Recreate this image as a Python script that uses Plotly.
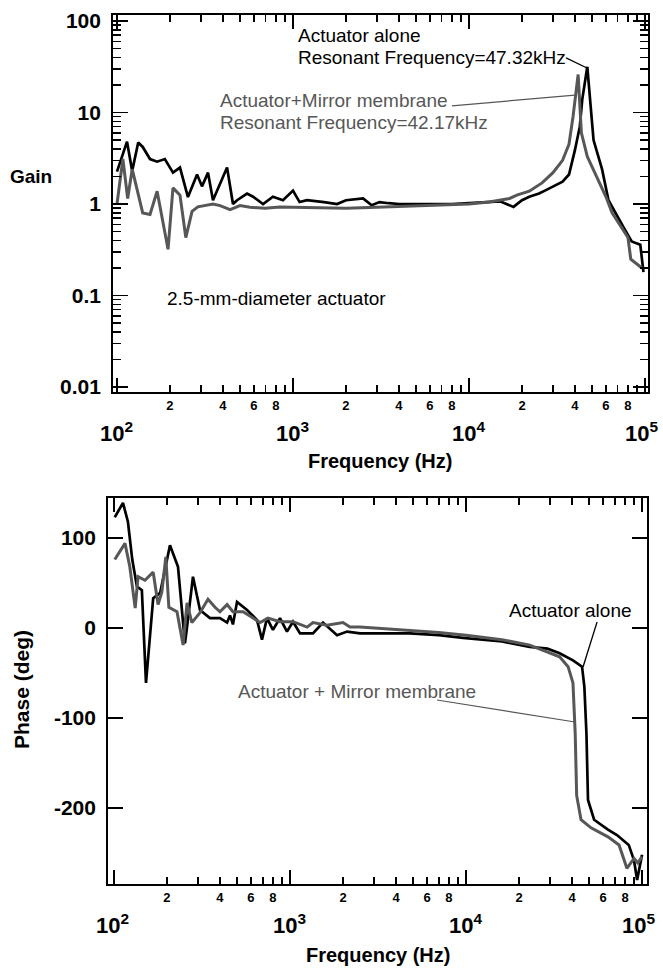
import numpy as np
import plotly.graph_objects as go

# ---------------- data ----------------
# Gain, actuator alone
gain_alone_freq = [100, 114, 122, 132, 140, 154, 169, 187, 208, 228, 253, 285, 304, 329, 351,
                   422, 456, 481, 548, 593, 676, 769, 877, 1000, 1090, 1200, 1500, 1780, 2000,
                   2500, 2800, 3100, 3500, 4000, 5000, 6000, 8000, 10000, 12000, 15000, 17900,
                   20000, 22000, 25000, 27000, 31000, 34000, 37000, 40000, 42600, 44000, 47000,
                   51000, 57000, 62000, 75000, 84000, 94000, 98000]
gain_alone = [2.26, 4.8, 2.3, 4.7, 4.2, 3.1, 2.9, 3.1, 2.2, 2.5, 1.19, 2.1, 1.56, 2.2, 1.1,
              2.5, 1.0, 1.1, 1.3, 1.2, 1.0, 1.2, 1.1, 1.4, 1.05, 1.1, 1.05, 1.0, 1.1,
              1.15, 0.97, 1.05, 1.02, 1.0, 1.0, 1.0, 1.0, 1.02, 1.05, 1.07, 0.93,
              1.1, 1.2, 1.3, 1.4, 1.6, 1.75, 2.1, 3.9, 7.0, 13.8, 31.6,
              5.0, 2.4, 1.1, 0.57, 0.39, 0.36, 0.18]

# Gain, actuator + mirror membrane
gain_mirror_freq = [100, 108, 115, 122, 140, 154, 169, 195, 208, 228, 246, 267, 288, 316, 351,
                    385, 439, 500, 570, 693, 843, 1000, 1500, 2000, 3000, 5000, 8000, 10000,
                    13000, 17000, 18700, 22000, 26000, 30000, 34000, 37000, 39000, 41700, 43500,
                    47000, 53000, 60000, 65000, 80000, 83000, 96000]
gain_mirror = [1.0, 3.1, 1.15, 2.4, 0.8, 0.77, 1.38, 0.32, 1.5, 1.25, 0.43, 0.83, 0.93, 0.96, 1.0,
               0.96, 0.87, 0.96, 0.92, 0.9, 0.93, 0.92, 0.9, 0.9, 0.92, 0.95, 0.97, 1.0,
               1.05, 1.15, 1.25, 1.38, 1.7, 2.2, 3.0, 4.5, 9.0, 26.0, 6.0,
               3.3, 2.0, 1.2, 0.8, 0.43, 0.25, 0.2]

# Phase, actuator alone
phase_alone_freq = [101, 112.5, 120, 127, 135, 144, 152, 167, 183, 208, 231, 253, 260, 281, 308,
                    351, 400, 439, 456, 474, 500, 570, 649, 693, 740, 800, 877, 961, 1040, 1140,
                    1350, 1540, 1850, 2110, 2500, 3000, 4800, 7000, 9600, 16000, 23000, 29000,
                    34000, 40500, 45600, 47000, 48300, 49300, 53400, 64000, 72000, 84000, 90000,
                    93700, 97500, 100000]
phase_alone = [123, 139, 118, 76, 46, 42, -61, 33, 39, 92, 68, -17, 1, 57, 20,
               11, 11, 6, 14, 4, 29, 20, 9, -13, 11, -2, 11, -4, 7, -6,
               -6, 6, -8, -4, -6, -6, -6, -8, -11, -15, -21, -23,
               -28, -36, -43, -65, -117, -191, -213, -224, -230, -241, -258,
               -280, -265, -252]

# Phase, actuator + mirror membrane
phase_mirror_freq = [101, 115.5, 123, 132, 137, 150, 167, 178, 187, 197, 205, 228, 247, 260, 277,
                     308, 342, 375, 400, 439, 474, 541, 617, 676, 750, 877, 1040, 1250, 1350,
                     1620, 2000, 2190, 2500, 3000, 5000, 7000, 10000, 16000, 23000, 34000, 38000,
                     40500, 41700, 42500, 45000, 51300, 64000, 74000, 82000, 90000, 94600, 100000]
phase_mirror = [76, 94, 68, 22, 57, 53, 62, 26, 40, 79, 23, 18, -19, 28, 6,
                17, 32, 23, 18, 26, 18, 18, 11, 6, 11, 7, 7, 1, 6,
                3, 6, 1, 1, 0, -3, -5, -8, -13, -19, -32, -43,
                -61, -117, -186, -213, -222, -232, -241, -267, -256, -261, -254]

# leader lines (data coordinates)
gain_lead_alone_f = [35600, 46800]
gain_lead_alone_v = [39.5, 30.6]
gain_lead_mirror_f = [8000, 40000]
gain_lead_mirror_v = [11.8, 15.5]
phase_lead_alone_f = [55500, 46200]
phase_lead_alone_v = [6.7, -43.3]
phase_lead_mirror_f = [6840, 41600]
phase_lead_mirror_v = [-80, -104.4]

# ticks
x_decades = [100, 1000, 10000, 100000]
x_decade_text = ["10<sup>2</sup>", "10<sup>3</sup>", "10<sup>4</sup>", "10<sup>5</sup>"]
x_minor = [m * 10 ** e for e in (2, 3, 4) for m in range(2, 10)]
x_minor_text = [(str(m) if m % 2 == 0 else "") for e in (2, 3, 4) for m in range(2, 10)]
gain_ticks = [0.01, 0.1, 1, 10, 100]
gain_tick_text = ["0.01", "0.1", "1", "10", "100"]
gain_minor = [m * 10 ** e for e in (-2, -1, 0, 1) for m in range(2, 10)]
phase_ticks = [-200, -100, 0, 100]
phase_tick_text = ["-200", "-100", "0", "100"]

# ---------------- figure ----------------
W, H = 663, 968
FONT = "Liberation Sans, Arial, sans-serif"
BLACK = "#000000"
GRAY = "#575757"
NB = "\u00a0"


def px(x):
    return x / W


def py(y):
    return 1 - y / H


fig = go.Figure()


def line(x, y, xa, ya, color, width):
    fig.add_trace(go.Scatter(x=x, y=y, mode="lines", xaxis=xa, yaxis=ya,
                             line=dict(color=color, width=width),
                             hoverinfo="skip", showlegend=False))


line(gain_alone_freq, gain_alone, "x", "y", BLACK, 2.7)
line(gain_mirror_freq, gain_mirror, "x", "y", GRAY, 3)
line(gain_lead_alone_f, gain_lead_alone_v, "x", "y", BLACK, 1.3)
line(gain_lead_mirror_f, gain_lead_mirror_v, "x", "y", GRAY, 1.2)
line(phase_alone_freq, phase_alone, "x2", "y2", BLACK, 2.7)
line(phase_mirror_freq, phase_mirror, "x2", "y2", GRAY, 3)
line(phase_lead_alone_f, phase_lead_alone_v, "x2", "y2", BLACK, 1.3)
line(phase_lead_mirror_f, phase_lead_mirror_v, "x2", "y2", GRAY, 1.2)


def main_x(domain, rng, anchor):
    return dict(type="log", domain=domain, range=rng, anchor=anchor, automargin=False,
                showline=True, linecolor=BLACK, linewidth=2, mirror="ticks",
                ticks="inside", ticklen=7, tickwidth=1.5, tickcolor=BLACK,
                tickmode="array", tickvals=x_minor, ticktext=x_minor_text,
                tickfont=dict(family=FONT, size=13, color=BLACK, weight="bold"),
                minor=dict(tickmode="array", tickvals=x_decades, ticks="inside",
                           ticklen=14, tickwidth=1.5, tickcolor=BLACK, showgrid=False),
                showgrid=False, zeroline=False)


top_dom_x = [px(113), px(648)]
top_dom_y = [py(392), py(15)]
bot_dom_x = [px(108), px(647)]
bot_dom_y = [py(884), py(498)]
top_rng_x = [1.9773, 5.017]
bot_rng_x = [1.966, 5.028]

fig.update_layout(
    template="none",
    width=W, height=H,
    margin=dict(l=0, r=0, t=0, b=0, pad=0, autoexpand=False),
    paper_bgcolor="white", plot_bgcolor="white",
    showlegend=False,
    xaxis=main_x(top_dom_x, top_rng_x, "y"),
    xaxis2=main_x(bot_dom_x, bot_rng_x, "y2"),
    yaxis=dict(type="log", domain=top_dom_y, range=[-2.054, 2.065], anchor="x",
               automargin=False,
               showline=True, linecolor=BLACK, linewidth=2, mirror="ticks",
               ticks="inside", ticklen=15, tickwidth=1.5, tickcolor=BLACK,
               tickmode="array", tickvals=gain_ticks,
               ticktext=[t + NB for t in gain_tick_text],
               tickfont=dict(family=FONT, size=21, color=BLACK, weight="bold"),
               minor=dict(tickmode="array", tickvals=gain_minor, ticks="inside",
                          ticklen=8, tickwidth=1.5, tickcolor=BLACK, showgrid=False),
               showgrid=False, zeroline=False),
    yaxis2=dict(domain=bot_dom_y, range=[-284.4, 144.4], anchor="x2",
                automargin=False,
                showline=True, linecolor=BLACK, linewidth=2, mirror="ticks",
                ticks="inside", ticklen=15, tickwidth=1.5, tickcolor=BLACK,
                tickmode="array", tickvals=phase_ticks,
                ticktext=[t + NB for t in phase_tick_text],
                tickfont=dict(family=FONT, size=21, color=BLACK, weight="bold"),
                showgrid=False, zeroline=False),
)

ann = []


def text(x, y, s, size=19, color=BLACK, bold=False, xanchor="left", angle=0):
    ann.append(dict(x=px(x), y=py(y), xref="paper", yref="paper", text=s,
                    showarrow=False, xanchor=xanchor, yanchor="middle",
                    textangle=angle,
                    font=dict(family=FONT, size=size, color=color,
                              weight="bold" if bold else "normal")))


# decade labels placed on the log axes
for xr, ylab in (("x", 432), ("x2", 924)):
    for d, t in zip(x_decades, x_decade_text):
        ann.append(dict(x=np.log10(d), xref=xr, y=py(ylab), yref="paper", text=t,
                        showarrow=False, xanchor="center", yanchor="middle",
                        xshift=-4 if d == x_decades[-1] else -1,
                        font=dict(family=FONT, size=22, color=BLACK, weight="bold")))

text(296, 35, "Actuator alone")
text(296, 57, "Resonant Frequency=47.32kHz")
text(218, 101, "Actuator+Mirror membrane", color=GRAY)
text(218, 123, "Resonant Frequency=42.17kHz", color=GRAY)
text(165, 298, "2.5-mm-diameter actuator")
text(31, 176, "Gain", size=19, bold=True, xanchor="center")
text(380, 461, "Frequency (Hz)", size=20, bold=True, xanchor="center")
text(378, 955, "Frequency (Hz)", size=20, bold=True, xanchor="center")
text(21, 690, "Phase (deg)", size=21, bold=True, xanchor="center", angle=-90)
text(507, 610, "Actuator alone")
text(236, 691, "Actuator + Mirror membrane", color=GRAY)
fig.update_layout(annotations=ann)

fig.write_html("out.html",
               config={"displayModeBar": False, "staticPlot": True},
               post_script="document.body.style.margin='0px';"
                           "document.body.style.overflow='hidden';")
